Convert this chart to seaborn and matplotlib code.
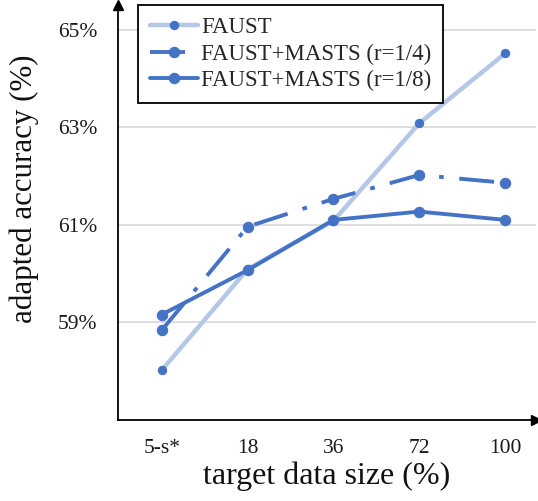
import matplotlib
matplotlib.use("Agg")
import matplotlib.pyplot as plt
import seaborn as sns
import pandas as pd

categories = ["5-s*", "18", "36", "72", "100"]
faust = [58.02, 60.09, 61.08, 63.08, 64.51]
masts_r4 = [58.84, 60.96, 61.53, 62.02, 61.86]
masts_r8 = [59.16, 60.07, 61.10, 61.27, 61.10]
yticks = [59, 61, 63, 65]
ytick_labels = ["59%", "61%", "63%", "65%"]

sns.set_theme(style="white")
plt.rcParams["font.family"] = ["Liberation Serif", "DejaVu Serif"]

fig = plt.figure(figsize=(5.38, 5.01), dpi=100)
ax = fig.add_axes([0.2193, 0.1617, 0.777, 0.828])

dark = "#4472C4"
light = "#B4C7E7"

df = pd.DataFrame({"x": categories, "faust": faust, "r4": masts_r4, "r8": masts_r8})

sns.lineplot(data=df, x="x", y="faust", ax=ax, sort=False, color=light, lw=3.2,
             marker="o", markersize=6, markerfacecolor=dark, markeredgecolor=dark,
             label="FAUST", zorder=3)
sns.lineplot(data=df, x="x", y="r4", ax=ax, sort=False, color=dark, lw=2.8,
             marker="o", markersize=7.5, markerfacecolor=dark, markeredgecolor=dark,
             label="FAUST+MASTS (r=1/4)", zorder=4)
ax.lines[-1].set_dashes([9, 4, 1.2, 4])
sns.lineplot(data=df, x="x", y="r8", ax=ax, sort=False, color=dark, lw=2.8,
             marker="o", markersize=7.5, markerfacecolor=dark, markeredgecolor=dark,
             label="FAUST+MASTS (r=1/8)", zorder=5)

ax.set_xlim(-0.51, 4.36)
ax.set_ylim(57.0, 65.5)
ax.set_yticks(yticks)
ax.set_yticklabels(ytick_labels)
ax.yaxis.grid(True, color="#D9D9D9", lw=1.2)
ax.xaxis.grid(False)
ax.set_axisbelow(True)
for s in ["top", "right"]:
    ax.spines[s].set_visible(False)
for s in ["left", "bottom"]:
    ax.spines[s].set_color("black")
    ax.spines[s].set_linewidth(1.3)
ax.tick_params(axis="y", length=0, labelsize=15.5, colors="#1a1a1a", pad=15)
ax.tick_params(axis="x", length=0, labelsize=15.5, colors="#1a1a1a", pad=14)
ax.set_xlabel("target data size (%)", fontsize=23, color="#111111")
ax.set_ylabel("adapted accuracy (%)", fontsize=22.3, color="#111111")
ax.xaxis.set_label_coords(0.5, -0.1)
ax.yaxis.set_label_coords(-0.19, 0.558)

ax.plot([0], [1], marker="^", color="black", markersize=7, transform=ax.transAxes, clip_on=False)
ax.plot([1], [0], marker=">", color="black", markersize=7, transform=ax.transAxes, clip_on=False)

leg = ax.legend(loc="upper left", bbox_to_anchor=(0.048, 1.0), fontsize=16.5,
                frameon=True, fancybox=False, edgecolor="black", handlelength=2.1,
                borderpad=0.5, labelspacing=0.25, handletextpad=0.15, borderaxespad=0)
leg.get_frame().set_linewidth(1.3)
leg.get_frame().set_facecolor("white")
leg.get_frame().set_alpha(1)

fig.savefig("out.png", dpi=100)
